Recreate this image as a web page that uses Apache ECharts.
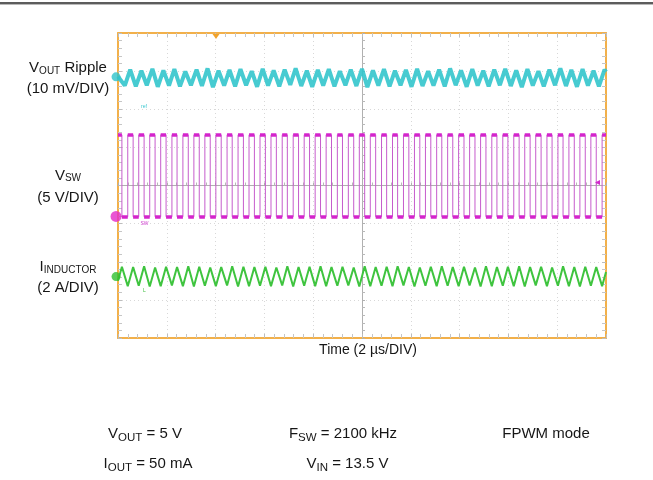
<!DOCTYPE html>
<html><head><meta charset="utf-8">
<script src="https://cdn.jsdelivr.net/npm/echarts@6/dist/echarts.min.js"></script>
<style>html,body{margin:0;padding:0;background:#fff}#c{width:653px;height:480px}</style>
</head><body><div id="c"></div>
<script>
// ---- data (time in µs, vertical in scope divisions, centre = 0) ----
const timeRange = [-10, 10];          // 2 µs/DIV, 10 divisions
const divRange = [-4, 4];             // 8 vertical divisions

// V_OUT ripple trace (cyan)
const rippleTimes = [-10.00, -9.72,
 -9.50, -9.27, -9.04, -8.82, -8.59, -8.37, -8.14, -7.91, -7.69, -7.46, -7.24, -7.01, -6.78, -6.56, -6.33, -6.11, -5.88, -5.65,
 -5.43, -5.20, -4.98, -4.75, -4.52, -4.30, -4.07, -3.85, -3.62, -3.39, -3.17, -2.94, -2.72, -2.49, -2.26, -2.04, -1.81, -1.59, -1.36, -1.13,
 -0.91, -0.68, -0.46, -0.23, 0.00, 0.22, 0.45, 0.67, 0.90, 1.13, 1.35, 1.58, 1.80, 2.03, 2.26, 2.48, 2.71, 2.93, 3.16, 3.39,
 3.61, 3.84, 4.06, 4.29, 4.52, 4.74, 4.97, 5.19, 5.42, 5.65, 5.87, 6.10, 6.32, 6.55, 6.78, 7.00, 7.23, 7.45, 7.68, 7.91,
 8.13, 8.36, 8.58, 8.81, 9.04, 9.26, 9.49, 9.71,
 9.94, 10.00];
const rippleValues = [2.86, 2.62,
 3.04, 2.60, 3.01, 2.63, 3.06, 2.59, 3.02, 2.62, 3.05, 2.60, 2.99, 2.63, 3.04, 2.61, 3.07, 2.58, 3.01, 2.62,
 3.03, 2.60, 3.05, 2.63, 3.00, 2.59, 3.06, 2.62, 3.02, 2.60, 3.04, 2.64, 3.07, 2.61, 3.01, 2.59, 3.03, 2.62, 3.05, 2.60,
 3.00, 2.63, 3.04, 2.61, 3.06, 2.58, 3.02, 2.62, 3.05, 2.60, 3.01, 2.63, 3.03, 2.59, 3.06, 2.61, 3.00, 2.62, 3.04, 2.60,
 3.07, 2.63, 3.02, 2.59, 3.05, 2.62, 3.01, 2.60, 3.04, 2.63, 3.06, 2.61, 3.02, 2.58, 3.05, 2.62, 3.00, 2.60, 3.04, 2.63,
 3.07, 2.61, 3.03, 2.59, 3.05, 2.62, 3.01, 2.60,
 3.04, 2.98];

// V_SW switch node (magenta): edge times and levels
const swRise = [-10.00, -9.60, -9.15, -8.70, -8.25, -7.79, -7.34, -6.89, -6.44, -5.99, -5.53,
 -5.08, -4.63, -4.18, -3.73, -3.27, -2.82, -2.37, -1.92, -1.47, -1.01,
 -0.56, -0.11, 0.34, 0.80, 1.25, 1.70, 2.15, 2.60, 3.06, 3.51,
 3.96, 4.41, 4.86, 5.32, 5.77, 6.22, 6.67, 7.12, 7.58, 8.03,
 8.48, 8.93, 9.38, 9.84];
const swFall = [-9.84, -9.38, -8.93, -8.48, -8.03, -7.58, -7.12, -6.67, -6.22, -5.77,
 -5.32, -4.86, -4.41, -3.96, -3.51, -3.06, -2.60, -2.15, -1.70, -1.25,
 -0.80, -0.34, 0.11, 0.56, 1.01, 1.46, 1.92, 2.37, 2.82, 3.27,
 3.72, 4.18, 4.63, 5.08, 5.53, 5.98, 6.44, 6.89, 7.34, 7.79,
 8.24, 8.70, 9.15, 9.60, 10.00];
const swHigh = 1.33;
const swLow = -0.82;

// Inductor current (green): value at start, peaks (at swFall) and valleys (at swRise[1..])
const ilStart = -2.50;
const ilPeaks = [-2.13, -2.14, -2.12, -2.15, -2.13, -2.14, -2.12, -2.13, -2.15, -2.14,
 -2.12, -2.13, -2.14, -2.13, -2.15, -2.12, -2.14, -2.13, -2.12, -2.14,
 -2.13, -2.15, -2.12, -2.14, -2.13, -2.12, -2.14, -2.15, -2.13, -2.12,
 -2.14, -2.13, -2.15, -2.12, -2.14, -2.13, -2.12, -2.14, -2.13, -2.15,
 -2.12, -2.14, -2.13, -2.14, -2.27];
const ilValleys = [-2.64, -2.63, -2.65, -2.64, -2.62, -2.64, -2.65, -2.63, -2.64, -2.62,
 -2.65, -2.64, -2.63, -2.64, -2.62, -2.65, -2.63, -2.64, -2.64, -2.63,
 -2.62, -2.65, -2.64, -2.63, -2.64, -2.62, -2.65, -2.63, -2.64, -2.63,
 -2.64, -2.62, -2.65, -2.64, -2.63, -2.64, -2.65, -2.62, -2.64, -2.63,
 -2.64, -2.65, -2.63, -2.64];

// channel ground-reference markers
const markerTime = -10.08;
const markerLevels = [2.85, -0.81, -2.39];
const markerColors = ['#2fc3cb', '#e42ac8', '#2fc12f'];

// text
const channelLabels = ['V{s|OUT} Ripple', 'V{s|SW}', 'I{s|INDUCTOR}'];
const channelScales = ['(10 mV/DIV)', '(5 V/DIV)', '(2 A/DIV)'];
const timeLabel = 'Time (2 µs/DIV)';
const conditions = ['V{s|OUT} = 5 V', 'F{s|SW} = 2100 kHz', 'FPWM mode', 'I{s|OUT} = 50 mA', 'V{s|IN} = 13.5 V'];

// ---- build series data ----
const ripplePts = rippleTimes.map((t, i) => [t, rippleValues[i]]);
const swPts = [];
const swTop = [], swBottom = [];
for (let i = 0; i < swRise.length; i++) {
  if (i > 0) swPts.push([swRise[i], swLow]);
  swPts.push([swRise[i], swHigh]);
  swPts.push([swFall[i], swHigh]);
  if (i < swRise.length - 1) swPts.push([swFall[i], swLow]);
  swTop.push({coords: [[swRise[i], swHigh], [swFall[i], swHigh]]});
  if (i < swRise.length - 1) swBottom.push({coords: [[swFall[i], swLow], [swRise[i + 1], swLow]]});
}
const ilPts = [[timeRange[0], ilStart], [swFall[0], ilPeaks[0]]];
for (let i = 1; i < swRise.length; i++) {
  ilPts.push([swRise[i], ilValleys[i - 1]]);
  ilPts.push([swFall[i], ilPeaks[i]]);
}

const FONT = '"Liberation Sans", Arial, Helvetica, sans-serif';
const BORDER = '#f2b04a';

function xAx(position, extra) {
  return Object.assign({
    type: 'value', min: timeRange[0], max: timeRange[1], interval: 2, position: position,
    axisLine: {show: true, onZero: false, lineStyle: {color: BORDER, width: 2}},
    axisTick: {show: true, inside: true, length: 4, lineStyle: {color: '#bdbdbd'}},
    minorTick: {show: true, splitNumber: 5, length: 4, lineStyle: {color: '#c6c6c6'}},
    axisLabel: {show: false}, splitLine: {show: false}
  }, extra || {});
}
function yAx(position, extra) {
  return Object.assign({
    type: 'value', min: divRange[0], max: divRange[1], interval: 1, position: position,
    axisLine: {show: true, onZero: false, lineStyle: {color: BORDER, width: 2}},
    axisTick: {show: true, inside: true, length: 4, lineStyle: {color: '#bdbdbd'}},
    minorTick: {show: true, splitNumber: 5, length: 4, lineStyle: {color: '#c6c6c6'}},
    axisLabel: {show: false}, splitLine: {show: false}
  }, extra || {});
}
const dotted = {show: true, lineStyle: {color: '#d8d8d8', width: 1, type: [1, 3]}};
const centreLine = {show: true, onZero: true, onZeroAxisIndex: 0, lineStyle: {color: '#b0b0b0', width: 1}};

function text(x, y, str, size, subSize, subLh, lh) {
  return {
    type: 'text', x: x, y: y, z: 50,
    style: {
      text: str, fill: '#161616', fontFamily: FONT, fontSize: size, lineHeight: lh,
      align: 'center', verticalAlign: 'middle',
      rich: {s: {fontFamily: FONT, fontSize: subSize, lineHeight: subLh, verticalAlign: 'bottom', fill: '#161616'}}
    }
  };
}

const labelX = 68;
const graphics = [
  {type: 'rect', shape: {x: 0, y: 2, width: 653, height: 2}, style: {fill: '#5c5c5c'}, z: 50},
  {type: 'rect', shape: {x: 0, y: 4, width: 653, height: 1}, style: {fill: '#b9b9b9'}, z: 50},
  text(labelX, 68, channelLabels[0], 15, 10, 11, 16),
  text(labelX, 89, channelScales[0], 15, 10, 11, 16),
  text(labelX, 175.5, channelLabels[1], 15, 10, 11, 16),
  text(labelX, 197.5, channelScales[1], 15, 10, 11, 16),
  text(labelX, 267, channelLabels[2], 15, 10, 11, 16),
  text(labelX, 287.5, channelScales[2], 15, 10, 11, 16),
  text(368, 350, timeLabel, 14, 10, 10, 16),
  text(145, 433.5, conditions[0], 15, 11.5, 11.5, 20),
  text(343, 433.5, conditions[1], 15, 11.5, 11.5, 20),
  text(546, 433.5, conditions[2], 15, 11.5, 11.5, 20),
  text(148, 463.5, conditions[3], 15, 11.5, 11.5, 20),
  text(347.5, 463.5, conditions[4], 15, 11.5, 11.5, 20),
  // trigger position marker and trigger level marker
  {type: 'polygon', shape: {points: [[212.5, 34], [219.5, 34], [216, 39]]}, style: {fill: '#f0a22c'}, z: 60},
  {type: 'polygon', shape: {points: [[595, 182.5], [600, 180], [600, 185]]}, style: {fill: '#d22ccc'}, z: 60},
  // tiny channel tags
  {type: 'text', x: 144, y: 107, z: 60, style: {text: 'ref', fill: '#3cc8d0', fontFamily: FONT, fontSize: 5, align: 'center', verticalAlign: 'middle'}},
  {type: 'text', x: 144.5, y: 224, z: 60, style: {text: 'SW', fill: '#d040d0', fontFamily: FONT, fontSize: 5, align: 'center', verticalAlign: 'middle'}},
  {type: 'text', x: 144.5, y: 291, z: 60, style: {text: 'L', fill: '#40c040', fontFamily: FONT, fontSize: 5, align: 'center', verticalAlign: 'middle'}}
];

const chart = echarts.init(document.getElementById('c'), null, {renderer: 'canvas'});
chart.setOption({
  animation: false,
  backgroundColor: '#ffffff',
  grid: {left: 118, top: 33, width: 488, height: 305, show: false},
  xAxis: [
    xAx('bottom', {splitLine: dotted}),
    xAx('top'),
    xAx('bottom', {axisLine: centreLine, axisTick: {show: true, inside: true, length: 3, lineStyle: {color: '#b0b0b0'}},
      minorTick: {show: true, splitNumber: 5, length: 3, lineStyle: {color: '#b8b8b8'}}})
  ],
  yAxis: [
    yAx('left', {splitLine: dotted}),
    yAx('right'),
    yAx('left', {axisLine: centreLine, axisTick: {show: true, inside: true, length: 3, lineStyle: {color: '#b0b0b0'}},
      minorTick: {show: true, splitNumber: 5, length: 3, lineStyle: {color: '#b8b8b8'}}})
  ],
  series: [
    {type: 'line', xAxisIndex: 0, yAxisIndex: 0, data: ripplePts, symbol: 'none', z: 3,
     lineStyle: {color: '#33c5cc', width: 4, opacity: 0.9}},
    {type: 'line', xAxisIndex: 0, yAxisIndex: 0, data: swPts, symbol: 'none', z: 3,
     lineStyle: {color: '#c65ccc', width: 1}},
    {type: 'lines', coordinateSystem: 'cartesian2d', xAxisIndex: 0, yAxisIndex: 0, data: swTop, z: 4,
     lineStyle: {color: '#d424cc', width: 3.5, opacity: 1}},
    {type: 'lines', coordinateSystem: 'cartesian2d', xAxisIndex: 0, yAxisIndex: 0, data: swBottom, z: 4,
     lineStyle: {color: '#d424cc', width: 3.5, opacity: 1}},
    {type: 'line', xAxisIndex: 0, yAxisIndex: 0, data: ilPts, symbol: 'none', z: 3,
     lineStyle: {color: '#3fc43f', width: 2}},
    {type: 'scatter', xAxisIndex: 0, yAxisIndex: 0, clip: false, z: 6,
     data: markerLevels.map((v, i) => ({value: [markerTime, v], symbolSize: i === 1 ? 11 : 9,
       itemStyle: {color: markerColors[i]}})) }
  ],
  graphic: graphics
});
</script></body></html>
